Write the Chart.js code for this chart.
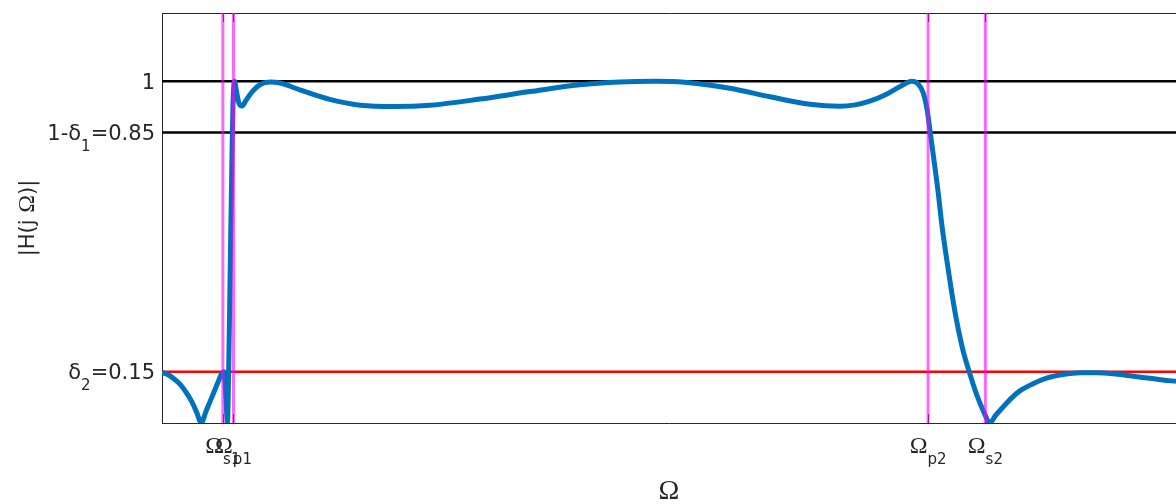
<!DOCTYPE html>
<html>
<head>
<meta charset="utf-8">
<script src="https://cdn.jsdelivr.net/npm/chart.js@4"></script>
<style>
  html, body { margin: 0; padding: 0; background: #fff; overflow: hidden; }
  #wrap { width: 1176px; height: 504px; }
</style>
</head>
<body>
<div id="wrap"><canvas id="filterChart" width="1176" height="504"></canvas></div>
<script>
// frequency axis (rad/s) and magnitude response
const omega = [0, 0.012, 0.024, 0.036, 0.047, 0.059, 0.069, 0.077, 0.087, 0.099, 0.110, 0.118, 0.122, 0.126, 0.129,
  0.132, 0.135, 0.138, 0.140, 0.143, 0.147, 0.152, 0.158, 0.166, 0.178, 0.193, 0.213, 0.233, 0.272, 0.331,
  0.391, 0.460, 0.529, 0.627, 0.726, 0.824, 0.903, 0.972, 1.041, 1.120, 1.199, 1.278, 1.337, 1.367, 1.396,
  1.426, 1.456, 1.479, 1.491, 1.501, 1.509, 1.515, 1.523, 1.531, 1.538, 1.548, 1.558, 1.568, 1.580, 1.594, 1.607,
  1.621, 1.633, 1.643, 1.659, 1.677, 1.692, 1.718, 1.746, 1.777, 1.811, 1.844, 1.876, 1.909, 1.943,
  1.974, 2.0];
const mag = [0.148, 0.141, 0.129, 0.113, 0.091, 0.062, 0.029, 0.0, 0.035, 0.078, 0.118, 0.145, 0.150, 0.08, 0.0,
  0.20, 0.50, 0.78, 0.93, 1.0, 0.97, 0.935, 0.928, 0.945, 0.97, 0.99, 0.998, 0.995, 0.975, 0.947,
  0.930, 0.926, 0.930, 0.948, 0.970, 0.990, 0.998, 1.0, 0.996, 0.980, 0.955, 0.933, 0.927, 0.931, 0.942,
  0.960, 0.985, 1.0, 0.993, 0.968, 0.918, 0.853, 0.765, 0.674, 0.582, 0.476, 0.379, 0.294, 0.212, 0.141, 0.082,
  0.032, 0.0, 0.02, 0.047, 0.075, 0.094, 0.115, 0.132, 0.142, 0.147, 0.147, 0.144, 0.138, 0.132,
  0.126, 0.122];

const passLevels = [1, 0.85];
const stopLevel = 0.15;
const bandEdges = [0.120, 0.141, 1.511, 1.624];
const xTickLabels = ['Ω_{s1}', 'Ω_{p1}', 'Ω_{p2}', 'Ω_{s2}'];
const yTickValues = [0.15, 0.85, 1];
const yTickLabels = ['δ_2=0.15', '1-δ_1=0.85', '1'];

const X_MIN = 0, X_MAX = 2, Y_MIN = 0, Y_MAX = 1.2;
const AXIS_COLOR = '#262626';

// tiny tex-ish parser: "_x" or "_{xy}" become subscripts, Ω uses a serif face
function parseTex(s) {
  const out = [];
  let i = 0, buf = '';
  while (i < s.length) {
    if (s[i] === '_') {
      if (buf) { out.push({ t: buf, sub: false }); buf = ''; }
      let sub;
      if (s[i + 1] === '{') { const j = s.indexOf('}', i); sub = s.slice(i + 2, j); i = j + 1; }
      else { sub = s[i + 1]; i += 2; }
      out.push({ t: sub, sub: true });
    } else { buf += s[i]; i++; }
  }
  if (buf) out.push({ t: buf, sub: false });
  const res = [];
  out.forEach(seg => seg.t.split(/(Ω)/).filter(Boolean)
    .forEach(p => res.push({ t: p, sub: seg.sub, serif: p === 'Ω' })));
  return res;
}
function fontFor(g) {
  const size = g.sub ? 15 : (g.serif ? 24 : 21);
  return size + 'px ' + (g.serif ? '"Liberation Serif"' : '"DejaVu Sans"');
}
function drawTex(ctx, s, x, y, align) {
  const segs = parseTex(s);
  let w = 0;
  segs.forEach(g => { ctx.font = fontFor(g); g.w = ctx.measureText(g.t).width; w += g.w; });
  let cx = align === 'right' ? x - w : align === 'center' ? x - w / 2 : x;
  segs.forEach(g => {
    ctx.font = fontFor(g);
    ctx.fillText(g.t, cx, g.sub ? y + 11 : y);
    cx += g.w;
  });
}

const texAxes = {
  id: 'texAxes',
  beforeDatasetsDraw(chart) {
    // matlab style inward tick marks
    const { ctx, chartArea: a, scales: { x } } = chart;
    ctx.save();
    ctx.strokeStyle = AXIS_COLOR;
    ctx.lineWidth = 1;
    bandEdges.forEach(v => {
      const px = Math.round(x.getPixelForValue(v)) + 0.5;
      ctx.beginPath();
      ctx.moveTo(px, a.bottom); ctx.lineTo(px, a.bottom - 9);
      ctx.moveTo(px, a.top); ctx.lineTo(px, a.top + 9);
      ctx.stroke();
    });
    ctx.restore();
  },
  afterDraw(chart) {
    const { ctx, chartArea: a, scales: { x, y } } = chart;
    ctx.save();
    ctx.fillStyle = AXIS_COLOR;
    ctx.textBaseline = 'alphabetic';
    yTickValues.forEach((v, i) => drawTex(ctx, yTickLabels[i], a.left - 7, y.getPixelForValue(v) + 7.5, 'right'));
    bandEdges.forEach((v, i) => drawTex(ctx, xTickLabels[i], x.getPixelForValue(v), a.bottom + 30, 'center'));

    ctx.font = '28px "Liberation Serif"';
    ctx.textAlign = 'center';
    ctx.fillText('Ω', (a.left + a.right) / 2, 499);
    ctx.textAlign = 'left';

    ctx.translate(27, (a.top + a.bottom) / 2);
    ctx.rotate(-Math.PI / 2);
    drawTex(ctx, '|H(j Ω)|', 0, 7, 'center');
    ctx.restore();
  }
};

const datasets = [];
bandEdges.forEach(e => datasets.push({
  data: [{ x: e, y: Y_MIN }, { x: e, y: Y_MAX }],
  borderColor: 'rgba(255, 0, 255, 0.6)', borderWidth: 3, pointRadius: 0, order: 0
}));
datasets.push({
  data: omega.map((w, i) => ({ x: w, y: mag[i] })),
  borderColor: '#0072BD', borderWidth: 5, pointRadius: 0,
  cubicInterpolationMode: 'monotone', order: 1
});
passLevels.forEach(l => datasets.push({
  data: [{ x: X_MIN, y: l }, { x: X_MAX, y: l }],
  borderColor: '#000000', borderWidth: 2.5, pointRadius: 0, order: 2
}));
datasets.push({
  data: [{ x: X_MIN, y: stopLevel }, { x: X_MAX, y: stopLevel }],
  borderColor: '#ff0000', borderWidth: 2.5, pointRadius: 0, order: 2
});

const hiddenAxis = (pos) => ({
  position: pos,
  ticks: { display: false },
  grid: { display: false, drawTicks: false },
  border: { display: true, color: AXIS_COLOR, width: 1 }
});

new Chart(document.getElementById('filterChart'), {
  type: 'line',
  data: { datasets: datasets },
  options: {
    responsive: false,
    animation: false,
    layout: { padding: { left: 162, top: 13, right: 0, bottom: 81 } },
    plugins: { legend: { display: false }, tooltip: { enabled: false } },
    scales: {
      x: Object.assign(hiddenAxis('bottom'), { type: 'linear', min: X_MIN, max: X_MAX }),
      xTop: Object.assign(hiddenAxis('top'), { type: 'linear', min: X_MIN, max: X_MAX }),
      y: Object.assign(hiddenAxis('left'), { type: 'linear', min: Y_MIN, max: Y_MAX })
    }
  },
  plugins: [texAxes]
});
</script>
</body>
</html>
